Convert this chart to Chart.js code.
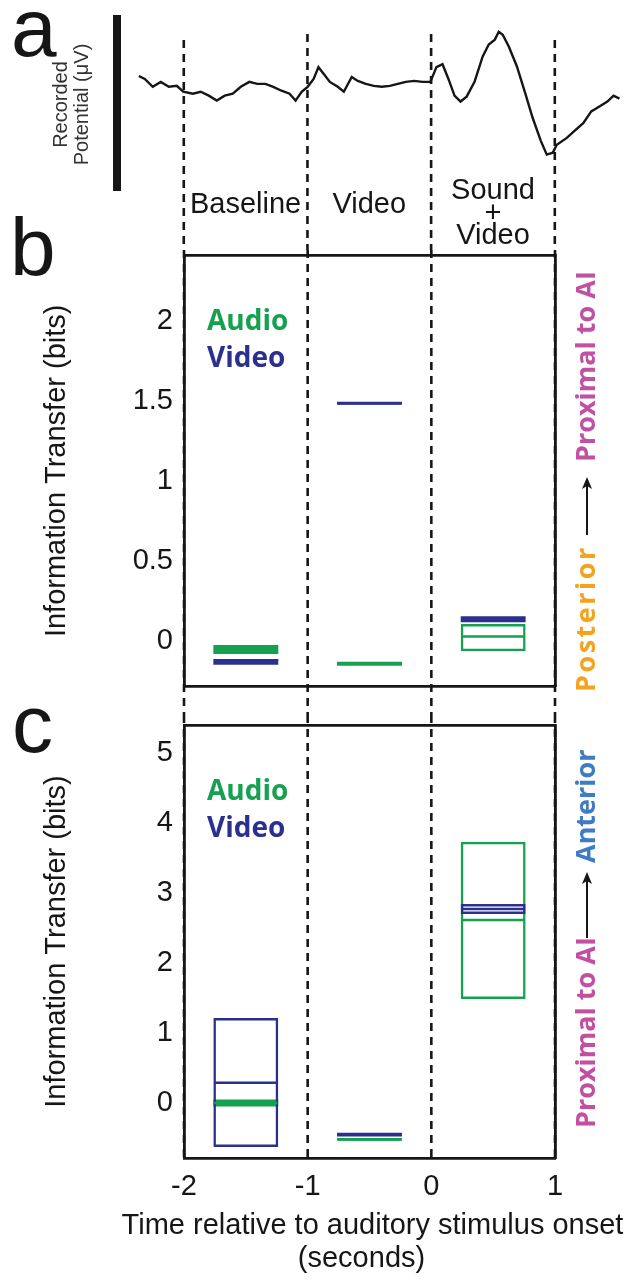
<!DOCTYPE html>
<html>
<head>
<meta charset="utf-8">
<script src="https://cdn.jsdelivr.net/npm/chart.js@4.4.1/dist/chart.umd.min.js"></script>
<style>
  html, body { margin: 0; padding: 0; background: #fff; }
  #fig { position: relative; width: 631px; height: 1284px; overflow: hidden; }
  .panel { position: absolute; left: 0; width: 631px; }
</style>
</head>
<body>
<div id="fig">
  <div class="panel" style="top:0;height:250px"><canvas id="panelA"></canvas></div>
  <div class="panel" style="top:200px;height:515px"><canvas id="panelB"></canvas></div>
  <div class="panel" style="top:690px;height:594px"><canvas id="panelC"></canvas></div>
</div>
<script>
// epochs on the shared time axis (seconds)
const timeTicks = [-2, -1, 0, 1];
const epochBounds = [-2, -1, 0, 1];
const epochNames = ['Baseline', 'Video', ['Sound', '+', 'Video']];
const epochCenters = [-1.5, -0.5, 0.5];
const timeTitle = ['Time relative to auditory stimulus onset', '(seconds)'];

// a: averaged recorded potential
const traceTime = [-2.364, -2.315, -2.251, -2.186, -2.121, -2.057, -2.004, -1.927, -1.863, -1.798,
  -1.733, -1.669, -1.604, -1.539, -1.470, -1.406, -1.340, -1.276, -1.210, -1.145,
  -1.096, -1.047, -0.999, -0.950, -0.911, -0.868, -0.819, -0.755, -0.706, -0.642,
  -0.593, -0.528, -0.464, -0.399, -0.334, -0.270, -0.205, -0.136, -0.071, -0.006,
  0.043, 0.092, 0.140, 0.189, 0.238, 0.287, 0.351, 0.417, 0.466, 0.515,
  0.547, 0.579, 0.628, 0.693, 0.757, 0.822, 0.887, 0.935, 0.984, 1.016,
  1.097, 1.166, 1.230, 1.295, 1.361, 1.425, 1.475, 1.523];
const traceUv = [1.3, 1.0, 0.2, 0.7, 0.2, 0.3, -0.3, -0.5, -0.3, -0.7,
  -1.2, -0.7, -0.5, 0.2, 0.7, 0.5, 0.5, 0.2, -0.2, -0.5,
  -1.2, -0.3, 0.2, 1.0, 2.2, 1.5, 0.7, 0.2, -0.3, 1.2,
  0.8, 0.5, 0.3, 0.2, 0.3, 0.5, 0.7, 0.8, 0.7, 0.7,
  2.2, 2.5, 1.0, -0.7, -1.3, -0.8, 0.7, 3.3, 4.5, 5.0,
  5.8, 5.5, 4.3, 2.3, -0.3, -3.0, -5.3, -6.7, -6.5, -5.7,
  -5.0, -4.2, -3.5, -2.3, -1.8, -1.3, -0.7, -1.0];

// b: information transfer (bits), posterior -> proximal to AI
const bAudioLow  = [-0.081, -0.155, -0.064];
const bAudioMid  = [-0.053, -0.142, 0.029];
const bAudioHigh = [-0.025, -0.130, 0.107];
const bVideoLow  = [-0.149, 1.478, 0.118];
const bVideoMid  = [-0.130, 1.488, 0.137];
const bVideoHigh = [-0.112, 1.497, 0.155];

// c: information transfer (bits), proximal to AI -> anterior
const cAudioLow  = [-0.05, -0.54, 1.486];
const cAudioMid  = [0.0, -0.52, 2.614];
const cAudioHigh = [0.05, -0.50, 3.733];
const cVideoLow  = [-0.629, -0.48, 2.70];
const cVideoMid  = [0.29, -0.452, 2.771];
const cVideoHigh = [1.214, -0.424, 2.843];

const INK = '#161616';
const GREEN = '#16a150';
const BLUE = '#2b2f8e';
const NONE = 'rgba(0,0,0,0)';
const FONT = '"Liberation Sans", Arial, sans-serif';
const BOLD = '"Open Sans", "Noto Sans", sans-serif';

function boxes(lo, hi) {
  return epochCenters.map((t, i) => ({ x: t, y: [lo[i], hi[i]] }));
}

// dashed epoch boundaries, drawn in each panel's own strip of the figure
function epochLines(tops, bottom) {
  return {
    id: 'epochLines',
    beforeDatasetsDraw(chart) {
      const ctx = chart.ctx, x = chart.scales.x;
      const yEnd = bottom === 'area' ? chart.chartArea.bottom : chart.height;
      ctx.save();
      ctx.strokeStyle = INK;
      ctx.lineWidth = 2.6;
      ctx.setLineDash([8, 6]);
      epochBounds.forEach((t, i) => {
        const px = x.getPixelForValue(t);
        ctx.beginPath();
        ctx.moveTo(px, tops[i]);
        ctx.lineTo(px, yEnd);
        ctx.stroke();
      });
      ctx.restore();
    }
  };
}

function medianLines(mids) {
  return {
    id: 'medianLines',
    afterDatasetsDraw(chart) {
      const ctx = chart.ctx, y = chart.scales.y;
      chart.data.datasets.forEach((ds, di) => {
        chart.getDatasetMeta(di).data.forEach((bar, i) => {
          const py = y.getPixelForValue(mids[di][i]);
          const half = bar.width / 2 - 1;
          ctx.save();
          ctx.strokeStyle = ds.borderColor;
          ctx.lineWidth = 2.5;
          ctx.beginPath();
          ctx.moveTo(bar.x - half, py);
          ctx.lineTo(bar.x + half, py);
          ctx.stroke();
          ctx.restore();
        });
      });
    }
  };
}

function letter(ch, x, y) {
  return {
    id: 'panelLetter',
    afterDraw(chart) {
      const ctx = chart.ctx;
      ctx.save();
      ctx.fillStyle = INK;
      ctx.font = '82px ' + FONT;
      ctx.textBaseline = 'alphabetic';
      ctx.fillText(ch, x, y);
      ctx.restore();
    }
  };
}

function legendText(yAudio, yVideo) {
  return {
    id: 'legendText',
    afterDraw(chart) {
      const ctx = chart.ctx;
      ctx.save();
      ctx.font = 'bold 28px ' + BOLD;
      ctx.textBaseline = 'alphabetic';
      ctx.fillStyle = GREEN;
      ctx.fillText('Audio', 207, yAudio);
      ctx.fillStyle = BLUE;
      ctx.fillText('Video', 207, yVideo);
      ctx.restore();
    }
  };
}

// rotated note on the right: [text, colour, start y, letter spacing] + arrow span
function sideNote(parts, arrow) {
  return {
    id: 'sideNote',
    afterDraw(chart) {
      const ctx = chart.ctx, cx = 587;
      ctx.save();
      ctx.font = 'bold 27px ' + BOLD;
      ctx.textBaseline = 'middle';
      ctx.textAlign = 'left';
      parts.forEach(([txt, col, y0, sp]) => {
        ctx.save();
        ctx.translate(cx, y0);
        ctx.rotate(-Math.PI / 2);
        ctx.letterSpacing = (sp || 0) + 'px';
        ctx.fillStyle = col;
        ctx.fillText(txt, 0, 0);
        ctx.restore();
      });
      ctx.strokeStyle = INK;
      ctx.fillStyle = INK;
      ctx.lineWidth = 2;
      ctx.beginPath();
      ctx.moveTo(cx, arrow[0]);
      ctx.lineTo(cx, arrow[1] + 6);
      ctx.stroke();
      ctx.beginPath();
      ctx.moveTo(cx, arrow[1]);
      ctx.lineTo(cx - 5, arrow[1] + 12);
      ctx.lineTo(cx, arrow[1] + 9);
      ctx.lineTo(cx + 5, arrow[1] + 12);
      ctx.closePath();
      ctx.fill();
      ctx.restore();
    }
  };
}

const epochLabels = {
  id: 'epochLabels',
  afterDraw(chart) {
    const ctx = chart.ctx, x = chart.scales.x;
    ctx.save();
    ctx.fillStyle = INK;
    ctx.font = '29px ' + FONT;
    ctx.textAlign = 'center';
    ctx.textBaseline = 'alphabetic';
    const baselines = [[213], [213], [199, 222, 244]];
    epochNames.forEach((name, i) => {
      const lines = Array.isArray(name) ? name : [name];
      const px = x.getPixelForValue(epochCenters[i]);
      lines.forEach((ln, j) => ctx.fillText(ln, px, baselines[i][j]));
    });
    ctx.restore();
  }
};

// shared time-axis title under panel c, centred on the plot area
const timeAxisTitle = {
  id: 'timeAxisTitle',
  afterDraw(chart) {
    const ctx = chart.ctx, area = chart.chartArea;
    const cx = (area.left + area.right) / 2;
    ctx.save();
    ctx.fillStyle = INK;
    ctx.font = '29px ' + FONT;
    ctx.textAlign = 'center';
    ctx.textBaseline = 'middle';
    ctx.fillText(timeTitle[0], cx + 3, area.bottom + 68);
    ctx.fillText(timeTitle[1], cx - 8, area.bottom + 101);
    ctx.restore();
  }
};

const frame = { display: true, width: 2.8, color: INK };
const noGrid = { display: false, drawTicks: false };

// a box squeezed to a few pixels reads as a solid bar in the original
function boxDatasets(aLo, aHi, vLo, vHi, solidBelow) {
  const thin = (lo, hi) => lo.map((v, i) => (hi[i] - v) < solidBelow);
  const style = (lo, hi, col) => {
    const t = thin(lo, hi);
    return { borderColor: col, backgroundColor: t.map(s => s ? col : NONE),
      borderWidth: t.map(s => s ? 0 : 2.5) };
  };
  const common = { borderSkipped: false, grouped: false, barPercentage: 0.525, categoryPercentage: 1 };
  return [
    Object.assign({ label: 'Audio', data: boxes(aLo, aHi), order: 1 }, style(aLo, aHi, GREEN), common),
    Object.assign({ label: 'Video', data: boxes(vLo, vHi), order: 0 }, style(vLo, vHi, BLUE), common)
  ];
}

function panelScales(yMin, yMax, yStep, bottomAxis) {
  return {
    x: Object.assign({ type: 'linear', min: -2, max: 1, grid: noGrid, border: frame, offset: false }, bottomAxis),
    xTop: { type: 'linear', position: 'top', min: -2, max: 1, grid: noGrid, border: frame,
      ticks: { display: false }, afterFit(s) { s.height = 0; } },
    y: { min: yMin, max: yMax, grid: noGrid, border: frame,
      ticks: { stepSize: yStep, includeBounds: false, padding: 11, color: INK,
        font: { family: FONT, size: 29 }, callback: v => String(v) },
      title: { display: true, text: 'Information Transfer (bits)', color: INK,
        font: { family: FONT, size: 29 }, padding: { top: 39.6, bottom: 0 } },
      afterFit(s) { s.width = 184; } },
    yRight: { position: 'right', min: yMin, max: yMax, grid: noGrid, border: frame,
      ticks: { display: false }, afterFit(s) { s.width = 76; } }
  };
}

const quiet = { legend: { display: false }, tooltip: { enabled: false } };

// panel a
new Chart(document.getElementById('panelA'), {
  type: 'line',
  data: {
    datasets: [{
      data: traceTime.map((t, i) => ({ x: t, y: traceUv[i] })),
      borderColor: INK, borderWidth: 2.4, pointRadius: 0, tension: 0
    }]
  },
  options: {
    responsive: true, maintainAspectRatio: false, animation: false,
    layout: { padding: { top: 19, bottom: 60, left: 0, right: 2 } },
    plugins: quiet,
    scales: {
      x: { type: 'linear', min: -2.54, max: 1.6, display: false },
      y: { min: -10.3, max: 7.1, grid: noGrid, ticks: { display: false },
        border: { display: true, width: 8, color: INK },
        title: { display: true, text: ['Recorded', 'Potential (\u03bcV)'], color: '#333',
          font: { family: FONT, size: 20, lineHeight: 1.05 }, padding: { top: 51, bottom: 0 } },
        afterFit(s) { s.width = 117; } }
    }
  },
  plugins: [epochLines([40, 34, 34, 40], 'canvas'), epochLabels, letter('a', 11, 56)]
});

// panel b
new Chart(document.getElementById('panelB'), {
  type: 'bar',
  data: { datasets: boxDatasets(bAudioLow, bAudioHigh, bVideoLow, bVideoHigh, 0.06) },
  options: {
    responsive: true, maintainAspectRatio: false, animation: false,
    layout: { padding: { top: 55, bottom: 25, left: 0, right: 0 } },
    plugins: quiet,
    scales: panelScales(-0.285, 2.415, 0.5, {
      ticks: { display: false, stepSize: 1 }, afterFit(s) { s.height = 0; } })
  },
  plugins: [epochLines([50, 50, 50, 50], 'canvas'), medianLines([bAudioMid, bVideoMid]),
    legendText(130, 167), letter('b', 10, 75),
    sideNote([['Posterior', '#f5a31f', 492, 2.5], ['Proximal to AI', '#c052a3', 262]], [335, 277])]
});

// panel c
new Chart(document.getElementById('panelC'), {
  type: 'bar',
  data: { datasets: boxDatasets(cAudioLow, cAudioHigh, cVideoLow, cVideoHigh, 0.13) },
  options: {
    responsive: true, maintainAspectRatio: false, animation: false,
    layout: { padding: { top: 35, bottom: 0, left: 0, right: 0 } },
    plugins: quiet,
    scales: panelScales(-0.786, 5.4, 1, {
      ticks: { stepSize: 1, padding: 11.6, color: INK, maxRotation: 0, autoSkip: false,
        font: { family: FONT, size: 29 } },
      afterBuildTicks(s) { s.ticks = timeTicks.map(v => ({ value: v })); },
      afterFit(s) { s.height = 126; } })
  },
  plugins: [epochLines([25, 25, 25, 25], 'area'), medianLines([cAudioMid, cVideoMid]),
    legendText(110, 147), letter('c', 12, 62), timeAxisTitle,
    sideNote([['Proximal to AI', '#c24f9f', 438], ['Anterior', '#3f7cc3', 173]], [248, 182])]
});
</script>
</body>
</html>
